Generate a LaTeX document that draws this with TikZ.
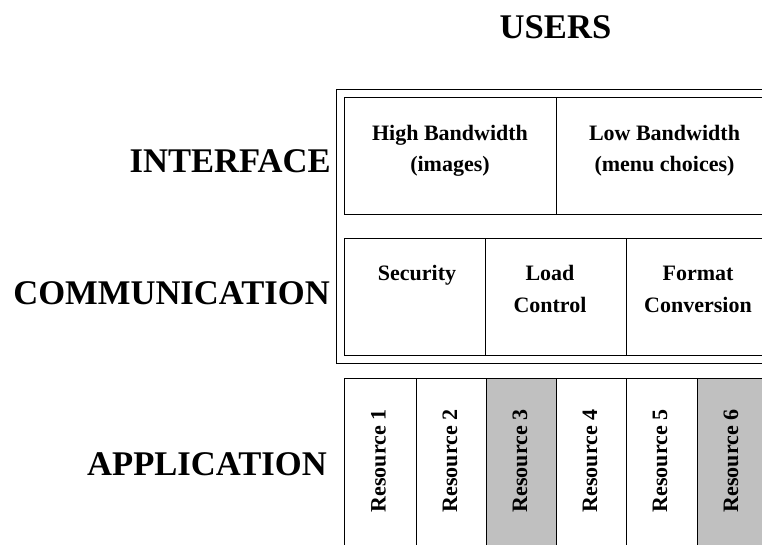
\documentclass[tikz,border=0pt]{standalone}
\usepackage{fontspec}
\setmainfont{Liberation Serif}
\definecolor{resgray}{RGB}{192,192,192}
\begin{document}
\begin{tikzpicture}[x=1pt,y=-1pt,
  frame/.style={draw=black,line width=0.9pt},
  cell/.style={frame,fill=white},
  shaded/.style={frame,fill=resgray},
  layerlabel/.style={font=\fontsize{34.6}{40}\selectfont\bfseries,anchor=base east,inner sep=0pt},
  celltext/.style={font=\fontsize{22}{30}\selectfont\bfseries,anchor=base,inner sep=0pt},
  restext/.style={font=\fontsize{22}{30}\selectfont\bfseries,rotate=90,inner sep=0pt}]
\useasboundingbox (0,0) rectangle (762,544);
\clip (0,0) rectangle (762,544);

% title
\node[font=\fontsize{34.6}{40}\selectfont\bfseries,anchor=base,inner sep=0pt] (users) at (555.5,38) {USERS};

% layer names
\node[layerlabel] (lint) at (331,172) {INTERFACE};
\node[layerlabel] (lcom) at (330,304) {COMMUNICATION};
\node[layerlabel] (lapp) at (327,475) {APPLICATION};

% frame around the interface and communication layers
\draw[frame] (336,89) rectangle (790,363);

% interface layer
\draw[cell] (344,97) rectangle (556,214);
\draw[cell] (556,97) rectangle (773,214);
\node[celltext] (hb1) at (450,140) {High Bandwidth};
\node[celltext] (hb2) at (450,171) {(images)};
\node[celltext] (lb1) at (664.5,140) {Low Bandwidth};
\node[celltext] (lb2) at (664.5,171) {(menu choices)};

% communication layer
\draw[cell] (344,238) rectangle (485,355);
\draw[cell] (485,238) rectangle (626,355);
\draw[cell] (626,238) rectangle (770,355);
\node[celltext] (sec) at (417,280) {Security};
\node[celltext] (ld1) at (550,280) {Load};
\node[celltext] (ld2) at (550,312) {Control};
\node[celltext] (fm1) at (698,280) {Format};
\node[celltext] (fm2) at (698,312) {Conversion};

% application layer: one column per resource
\draw[cell]   (344,378) rectangle (416,560);
\draw[cell]   (416,378) rectangle (486,560);
\draw[shaded] (486,378) rectangle (556,560);
\draw[cell]   (556,378) rectangle (626,560);
\draw[cell]   (626,378) rectangle (697,560);
\draw[shaded] (697,378) rectangle (767,560);
\node[restext] (r1) at (378.5,461) {Resource 1};
\node[restext] (r2) at (450,461) {Resource 2};
\node[restext] (r3) at (520,461) {Resource 3};
\node[restext] (r4) at (590,461) {Resource 4};
\node[restext] (r5) at (660,461) {Resource 5};
\node[restext] (r6) at (731,461) {Resource 6};
\end{tikzpicture}
\end{document}
